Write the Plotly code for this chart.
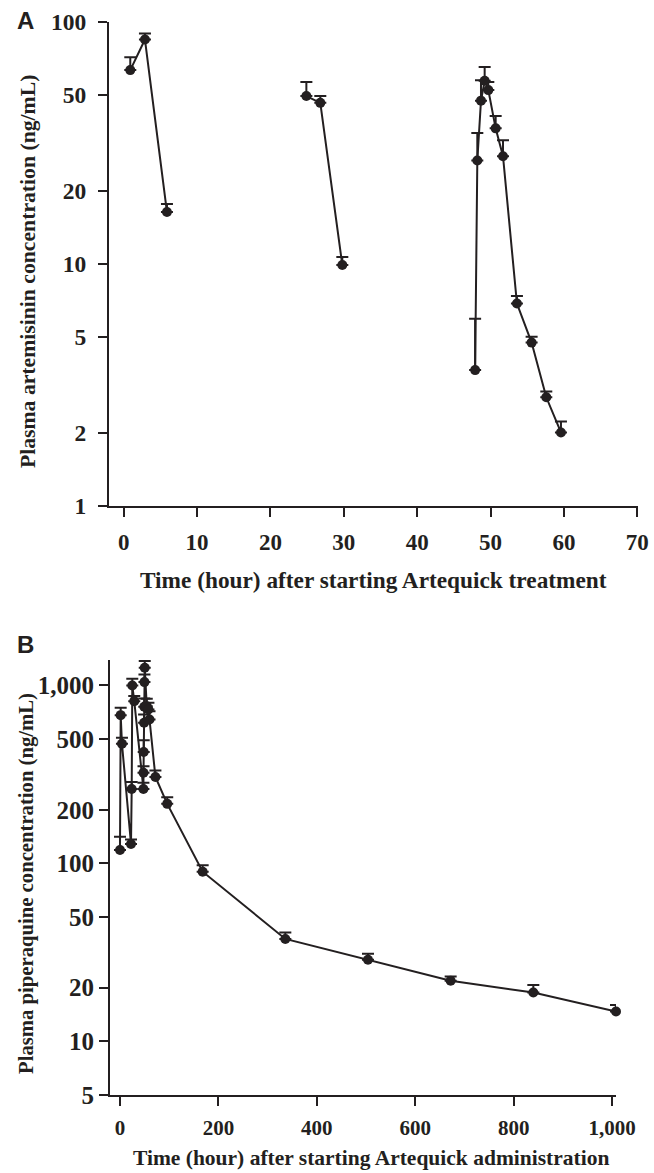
import plotly.graph_objects as go
import numpy as np

# ---------------- Panel A: artemisinin ----------------
a_time_1 = [0.9, 2.9, 5.9]
a_conc_1 = [63.4, 84.8, 16.4]
a_err_1 = [8.3, 5.0, 1.3]

a_time_2 = [24.9, 26.8, 29.8]
a_conc_2 = [49.5, 46.4, 9.9]
a_err_2 = [7.1, 3.1, 0.8]

a_time_3 = [47.9, 48.2, 48.7, 49.2, 49.7, 50.7, 51.7, 53.6, 55.6, 57.6, 59.6]
a_conc_3 = [3.64, 26.8, 47.4, 57.3, 52.4, 36.4, 27.9, 6.86, 4.73, 2.81, 2.01]
a_err_3 = [2.3, 8.0, 10.1, 8.0, 4.2, 4.5, 4.6, 0.52, 0.27, 0.16, 0.22]

a_xticks = [0, 10, 20, 30, 40, 50, 60, 70]
a_yticks = [1, 2, 5, 10, 20, 50, 100]
a_ytext = ["1", "2", "5", "10", "20", "50", "100"]

# ---------------- Panel B: piperaquine ----------------
b_time = [0, 1.4, 4, 22.4, 23.8, 25, 29, 47.6, 47.8, 48.2, 49, 49.3, 49.7, 50.3,
          54.4, 57.8, 60, 72, 96, 168, 336, 504, 672, 840, 1008]
b_conc = [119, 681, 470, 128.6, 262, 1000, 816, 262, 323, 423, 617, 759, 1044, 1258,
          765, 733, 644, 306, 216, 89.8, 37.6, 28.7, 21.9, 18.8, 14.7]
b_err = [22, 68, 38, 7.5, 25, 90, 55, 22, 28, 69, 70, 86, 109, 112,
         76, 67, 72, 27, 19, 7.7, 3.3, 2.3, 1.2, 1.9, 1.3]

b_xticks = [0, 200, 400, 600, 800, 1000]
b_xtext = ["0", "200", "400", "600", "800", "1,000"]
b_yticks = [5, 10, 20, 50, 100, 200, 500, 1000]
b_ytext = ["5", "10", "20", "50", "100", "200", "500", "1,000"]

INK = "#231f20"
W, H = 654, 1173

def px_x(p):
    return p / W

def px_y(p):
    return 1 - p / H

fig = go.Figure()

def add_series(x, y, e, xa, ya):
    fig.add_trace(go.Scatter(
        x=x, y=y, mode="lines+markers", xaxis=xa, yaxis=ya,
        line=dict(color=INK, width=2),
        marker=dict(color=INK, size=10),
        error_y=dict(type="data", symmetric=False, array=e,
                     arrayminus=[0] * len(e), color=INK, thickness=2, width=6),
        showlegend=False, cliponaxis=False, hoverinfo="skip",
    ))

add_series(a_time_1, a_conc_1, a_err_1, "x", "y")
add_series(a_time_2, a_conc_2, a_err_2, "x", "y")
add_series(a_time_3, a_conc_3, a_err_3, "x", "y")
add_series(b_time, b_conc, b_err, "x2", "y2")

serif = "Liberation Serif, Times New Roman, serif"
sans = "Liberation Sans, Arial, sans-serif"

axis_common = dict(showline=True, linewidth=2, linecolor=INK, showgrid=False,
                   zeroline=False, ticks="outside", ticklen=9, tickwidth=2,
                   tickcolor=INK, mirror=False, automargin=False)

fig.update_layout(
    template="none",
    width=W, height=H,
    margin=dict(l=0, r=0, t=0, b=0, pad=0),
    paper_bgcolor="white", plot_bgcolor="white",
    xaxis=dict(domain=[px_x(109), px_x(638)], range=[-2, 70.1],
               tickvals=a_xticks, anchor="y",
               tickfont=dict(family=serif, size=23, color=INK, weight="bold"),
               ticklabelstandoff=5, **axis_common),
    yaxis=dict(domain=[px_y(506), px_y(22)], type="log", range=[-0.001, 2.001],
               tickvals=a_yticks, ticktext=a_ytext, anchor="x",
               tickfont=dict(family=serif, size=23.5, color=INK, weight="bold"),
               ticklabelstandoff=7, **axis_common),
    xaxis2=dict(domain=[px_x(110), px_x(616)], range=[-20.3, 1008],
                tickvals=b_xticks, ticktext=b_xtext, anchor="y2",
                tickfont=dict(family=serif, size=21, color=INK, weight="bold"),
                ticklabelstandoff=4, **axis_common),
    yaxis2=dict(domain=[px_y(1095), px_y(660)], type="log",
                range=[np.log10(4.99), np.log10(1390)],
                tickvals=b_yticks, ticktext=b_ytext, anchor="x2",
                tickfont=dict(family=serif, size=25, color=INK, weight="bold"),
                ticklabelstandoff=0, **axis_common),
)

ann = [
    dict(text="<b>A</b>", x=px_x(15), y=px_y(21), xanchor="left", yanchor="middle",
         font=dict(family=sans, size=24, color=INK)),
    dict(text="<b>B</b>", x=px_x(15), y=px_y(644), xanchor="left", yanchor="middle",
         font=dict(family=sans, size=24, color=INK)),
    dict(text="<b>Time (hour) after starting Artequick treatment</b>",
         x=px_x(373), y=px_y(580), xanchor="center", yanchor="middle",
         font=dict(family=serif, size=23.3, color=INK)),
    dict(text="<b>Plasma artemisinin concentration (ng/mL)</b>", textangle=-90,
         x=px_x(28), y=px_y(272), xanchor="center", yanchor="middle",
         font=dict(family=serif, size=21.7, color=INK)),
    dict(text="<b>Time (hour) after starting Artequick administration</b>",
         x=px_x(371), y=px_y(1158), xanchor="center", yanchor="middle",
         font=dict(family=serif, size=21.5, color=INK)),
    dict(text="<b>Plasma piperaquine concentration (ng/mL)</b>", textangle=-90,
         x=px_x(26), y=px_y(884), xanchor="center", yanchor="middle",
         font=dict(family=serif, size=20.7, color=INK)),
]
for a in ann:
    a.update(xref="paper", yref="paper", showarrow=False)
fig.update_layout(annotations=ann)

fig.write_html(
    "out.html",
    config={"displayModeBar": False, "staticPlot": True},
    post_script="document.body.style.margin='0';document.body.style.padding='0';"
                "document.documentElement.style.overflow='hidden';",
)
